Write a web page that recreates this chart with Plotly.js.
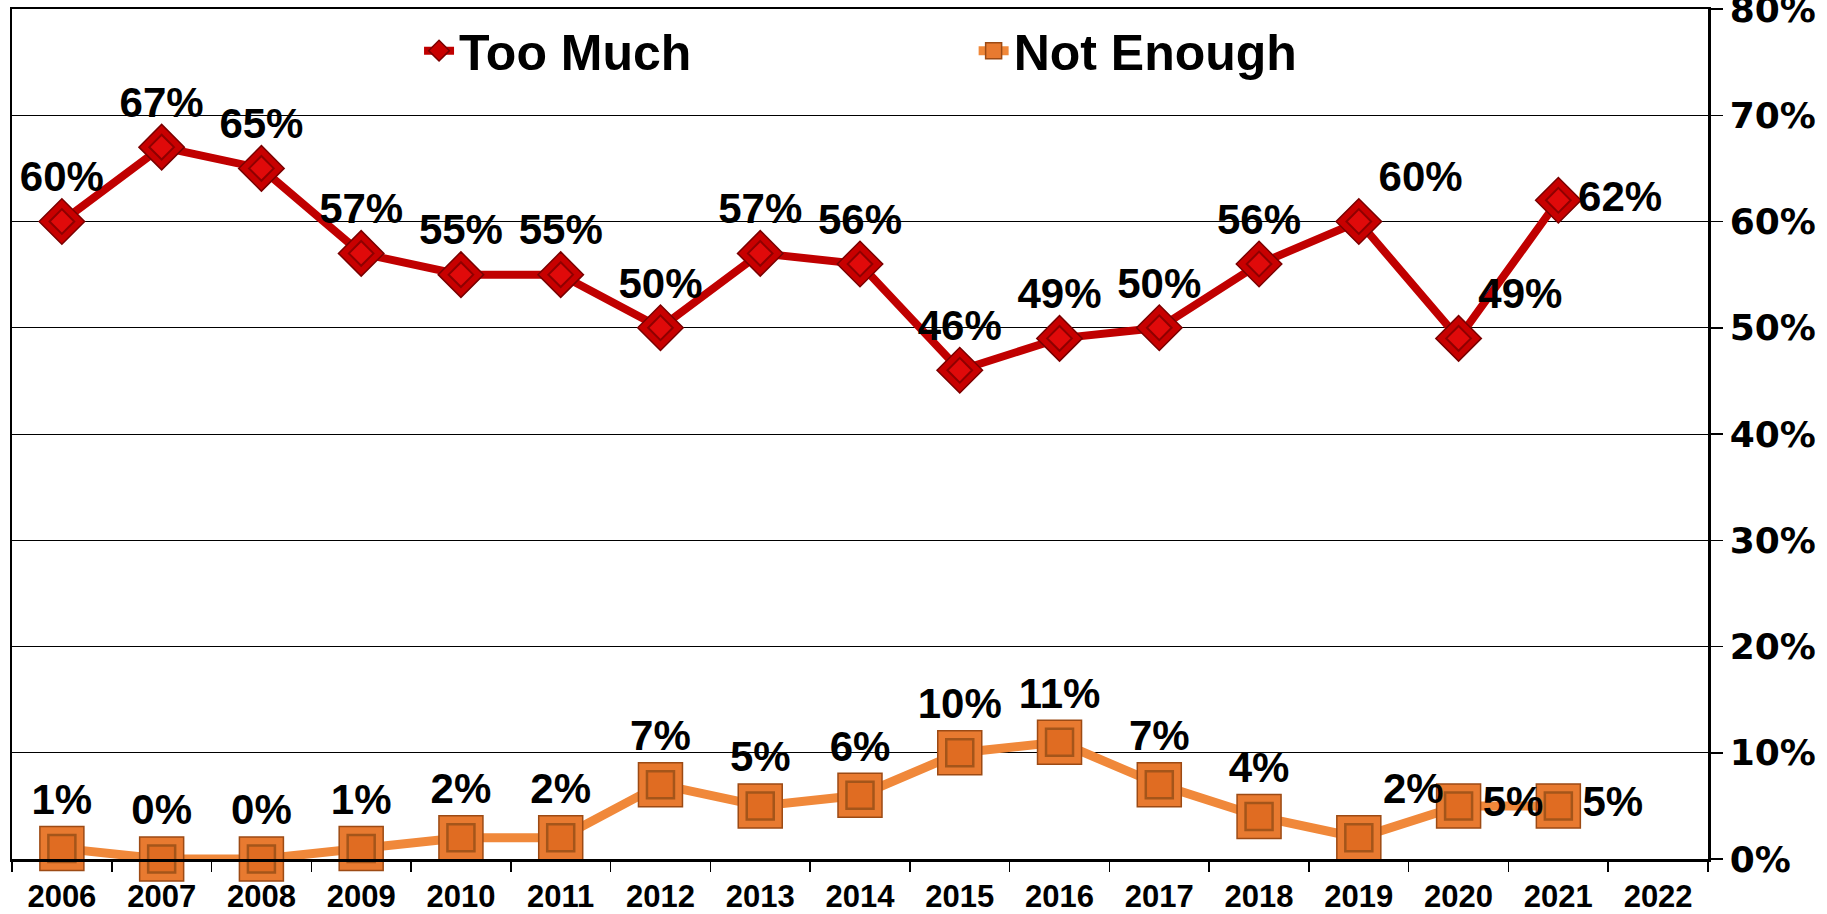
<!DOCTYPE html>
<html>
<head>
<meta charset="utf-8">
<script src="https://cdn.plot.ly/plotly-3.0.1.min.js"></script>
<style>html,body{margin:0;padding:0;background:#fff;}#chart{width:1827px;height:914px;}</style>
</head>
<body>
<div id="chart"></div>
<script>
// Data
var years = ['2006','2007','2008','2009','2010','2011','2012','2013','2014','2015','2016','2017','2018','2019','2020','2021','2022'];
var tooMuch = [0.60,0.67,0.65,0.57,0.55,0.55,0.50,0.57,0.56,0.46,0.49,0.50,0.56,0.60,0.49,0.62,null];
var notEnough = [0.01,0.00,0.00,0.01,0.02,0.02,0.07,0.05,0.06,0.10,0.11,0.07,0.04,0.02,0.05,0.05,null];
var seriesNames = ['Too Much','Not Enough'];
var yTickVals = [0,0.1,0.2,0.3,0.4,0.5,0.6,0.7,0.8];
var yTickText = ['0%','10%','20%','30%','40%','50%','60%','70%','80%'];

// label placement (style only)
var posTooMuch = ['top center','top center','top center','top center','top center','top center','top center','top center','top center','top center','top center','top center','top center','top right','top right','middle right','top center'];
var posNotEnough = ['top center','top center','top center','top center','top center','top center','top center','top center','top center','top center','top center','top center','top center','top right','middle right','middle right','top center'];

function pct(v){ return v === null ? '' : Math.round(v * 100) + '%'; }

var labelFont = {family:'Liberation Sans, Arial, sans-serif', size:42, color:'#000', weight:700};
var clear = 'rgba(0,0,0,0)';

var traces = [
  // Too Much: line + outer diamond
  {x:years, y:tooMuch, name:seriesNames[0], type:'scatter', mode:'lines+markers', cliponaxis:false,
   line:{color:'#C00000', width:8},
   marker:{symbol:'diamond', size:35, color:'#C80000', line:{color:'#7A0000', width:1.5}},
   legend:'legend', hoverinfo:'skip'},
  // inner bevel face
  {x:years, y:tooMuch, name:seriesNames[0], type:'scatter', mode:'markers', cliponaxis:false, showlegend:false,
   marker:{symbol:'diamond', size:19, color:'#E00A0A', line:{color:'#8E0000', width:2}}, hoverinfo:'skip'},
  // Not Enough: line + outer square
  {x:years, y:notEnough, name:seriesNames[1], type:'scatter', mode:'lines+markers', cliponaxis:false,
   line:{color:'#F0883A', width:9},
   marker:{symbol:'square', size:44, color:'#E87A30', line:{color:'#9C4A14', width:1.5}},
   legend:'legend2', hoverinfo:'skip'},
  {x:years, y:notEnough, name:seriesNames[1], type:'scatter', mode:'markers', cliponaxis:false, showlegend:false,
   marker:{symbol:'square', size:27, color:'#E06C22', line:{color:'#A4551A', width:2.5}}, hoverinfo:'skip'},
  // data labels (transparent markers set the label offset)
  {x:years, y:tooMuch, type:'scatter', mode:'markers+text', cliponaxis:false, showlegend:false,
   marker:{symbol:'diamond', size:30, color:clear}, text:tooMuch.map(pct),
   textposition:posTooMuch, textfont:labelFont, hoverinfo:'skip'},
  {x:years, y:notEnough, type:'scatter', mode:'markers+text', cliponaxis:false, showlegend:false,
   marker:{symbol:'square', size:37, color:clear}, text:notEnough.map(pct),
   textposition:posNotEnough, textfont:labelFont, hoverinfo:'skip'}
];

var legendFont = {family:'Liberation Sans, Arial, sans-serif', size:50, color:'#000', weight:700};

var layout = {
  width:1827, height:914,
  margin:{l:12, r:119, t:9, b:55},
  paper_bgcolor:'#fff', plot_bgcolor:'#fff',
  showlegend:true,
  legend:{x:0.24, y:0.951, xanchor:'left', yanchor:'middle', orientation:'h', font:legendFont, bgcolor:clear},
  legend2:{x:0.567, y:0.951, xanchor:'left', yanchor:'middle', orientation:'h', font:legendFont, bgcolor:clear},
  xaxis:{type:'category', categoryorder:'array', categoryarray:years, range:[-0.5,16.5],
    showgrid:false, zeroline:false, showline:true, mirror:true, linecolor:'#000', linewidth:2.5,
    ticks:'outside', tickson:'boundaries', ticklen:10, tickwidth:1.5, tickcolor:'#000',
    ticklabelstandoff:8,
    tickfont:{family:'Liberation Sans, Arial, sans-serif', size:31, color:'#000', weight:700}},
  yaxis:{side:'right', range:[0,0.8], tickmode:'array', tickvals:yTickVals, ticktext:yTickText,
    ticklabeloverflow:'allow',
    showgrid:true, gridcolor:'#000', gridwidth:1, zeroline:false,
    showline:true, mirror:true, linecolor:'#000', linewidth:2.5,
    ticks:'outside', ticklen:12, tickwidth:1.5, tickcolor:'#000',
    tickfont:{family:'DejaVu Sans, sans-serif', size:36, color:'#000', weight:700}}
};

Plotly.newPlot('chart', traces, layout, {displayModeBar:false, staticPlot:true});
</script>
</body>
</html>
